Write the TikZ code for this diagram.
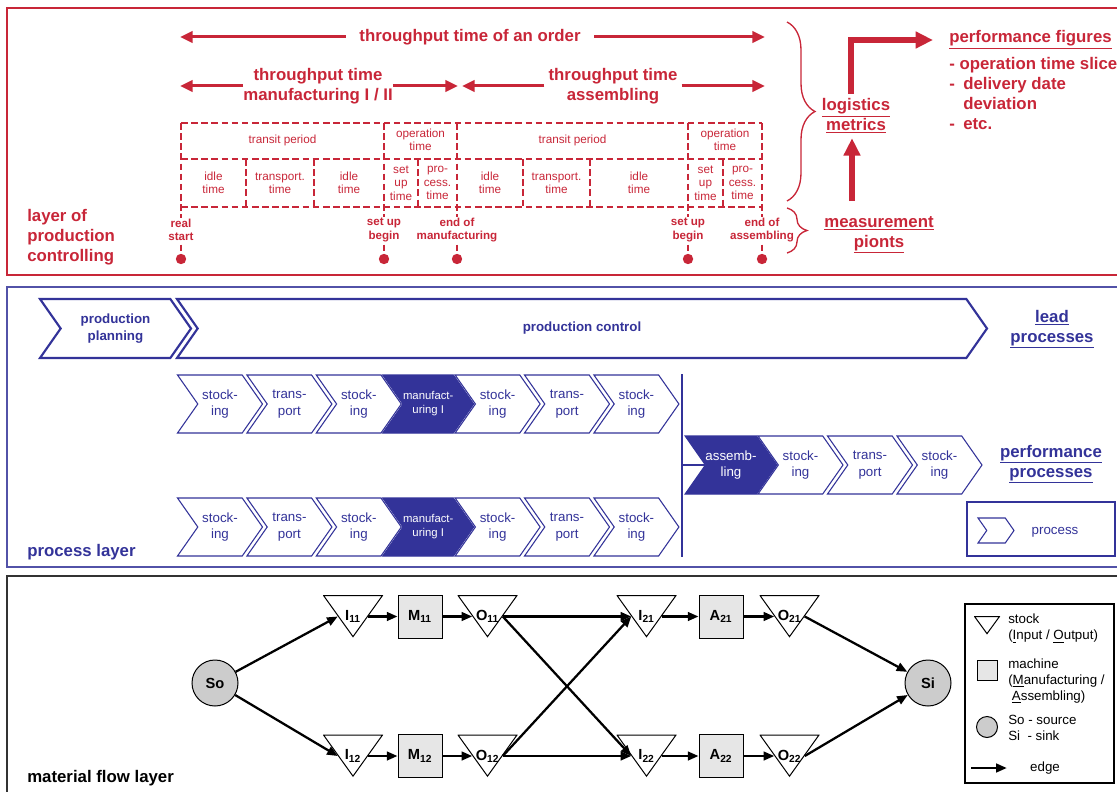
\documentclass[tikz,border=0pt]{standalone}
\usepackage{fontspec}
\setmainfont{Liberation Sans}
\definecolor{cRed}{HTML}{C82638}
\definecolor{cBlue}{HTML}{333399}
\definecolor{cFrame}{HTML}{333333}
\definecolor{cNodeGray}{HTML}{CCCCCC}
\definecolor{cBoxGray}{HTML}{E6E6E6}
\usepackage{tikz}
\usetikzlibrary{arrows.meta,calc,shapes.symbols,decorations.pathreplacing}

\newcommand{\fsHead}{\fontsize{12.6}{15}\selectfont\bfseries}
\newcommand{\fsGrid}{\fontsize{8.8}{10}\selectfont}
\newcommand{\fsMark}{\fontsize{8.7}{10}\selectfont\bfseries}
\newcommand{\fsProc}{\fontsize{10}{12.5}\selectfont}
\newcommand{\fsSmall}{\fontsize{8.5}{10.5}\selectfont}
\newcommand{\fsLead}{\fontsize{10}{12.5}\selectfont\bfseries}
\newcommand{\fsNode}{\fontsize{11}{13}\selectfont\bfseries}
\newcommand{\fsKey}{\fontsize{10}{12}\selectfont}

\begin{document}
\begin{tikzpicture}[x=0.75pt, y=-0.75pt,
  redarrow/.style={cRed, line width=2.25pt, -{Triangle[length=9.5pt,width=8.5pt]}},
  bigarrow/.style={cRed, line width=4.5pt, line join=miter, -{Triangle[length=13pt,width=12pt]}},
  griddash/.style={cRed, line width=1.5pt, dash pattern=on 5pt off 2.6pt},
  gridtxt/.style={cRed, font=\fsGrid, align=center, inner sep=0pt},
  marklbl/.style={cRed, font=\fsMark, align=center, fill=white, inner sep=1pt},
  mdot/.style={circle, fill=cRed, minimum size=7.8pt, inner sep=0pt},
  redbrace/.style={cRed, line width=1pt, decorate, decoration={brace, amplitude=#1}},
  headtxt/.style={cRed, font=\fsHead, align=center},
  bluehead/.style={cBlue, font=\fsHead, align=center},
  proc/.style={signal, signal from=west, signal to=east, signal pointer angle=110,
    draw=cBlue, line width=0.8pt, fill=white, text=cBlue, font=\fsProc, align=center,
    minimum width=63.75pt, minimum height=43.5pt, inner sep=0pt},
  procfill/.style={proc, fill=cBlue, text=white},
  leadproc/.style={proc, line width=1.6pt, font=\fsLead, minimum height=44.25pt},
  stock/.style={fill=white, minimum width=45pt, minimum height=32.25pt, inner sep=0pt, font=\fsNode,
    path picture={\draw[line width=0.75pt, fill=white]
      ([shift={(0.4pt,-0.4pt)}]path picture bounding box.north west) --
      ([shift={(-0.4pt,-0.4pt)}]path picture bounding box.north east) --
      ([yshift=1pt]path picture bounding box.south) -- cycle;}},
  machine/.style={draw, line width=0.75pt, fill=cBoxGray, minimum width=33pt, minimum height=32.25pt, inner sep=0pt, font=\fsNode},
  endnode/.style={circle, draw, line width=0.75pt, fill=cNodeGray, minimum size=34.5pt, inner sep=0pt, font=\fsNode},
  flow/.style={line width=1.7pt, -{Triangle[length=8pt,width=6.5pt]}},
  keytxt/.style={font=\fsKey, align=left, anchor=west, inner sep=0pt}]
\useasboundingbox (0,0) rectangle (1117,792);

% layer frames
\draw[cRed, line width=1.1pt] (1125,8) -- (7,8) -- (7,275) -- (1125,275);
\draw[cBlue!85, line width=1.1pt] (1125,287) -- (7,287) -- (7,567) -- (1125,567);
\draw[cFrame, line width=1.1pt] (1125,576) -- (7,576) -- (7,800);

% layer of production controlling
\node[headtxt, anchor=west, align=left, inner sep=0pt] (pclayer) at (27,237) {layer of\\production\\controlling};
\coordinate (tA) at (180,37);
\coordinate (tB) at (765,37);
\node[headtxt, inner xsep=10pt] (tto) at (470,37) {throughput time of an order};
\draw[redarrow] (tto) -- (tA);
\draw[redarrow] (tto) -- (tB);
\coordinate (tpmA) at (180,86);
\coordinate (tpmB) at (458,86);
\coordinate (tpaA) at (462,86);
\coordinate (tpaB) at (765,86);
\node[headtxt, inner xsep=0pt] (tpm) at (318,86) {throughput time\\manufacturing I / II};
\node[headtxt, inner xsep=3pt] (tpa) at (613,86) {throughput time\\assembling};
\draw[redarrow] (tpm) -- (tpmA);
\draw[redarrow] (tpm) -- (tpmB);
\draw[redarrow] (tpa) -- (tpaA);
\draw[redarrow] (tpa) -- (tpaB);

\foreach \y in {123,159,207} \draw[griddash] (181,\y) -- (762,\y);
\foreach \x in {246,314,418,523,590,723} \draw[griddash] (\x,159) -- (\x,207);
\foreach \m/\x in {rs/181,sb1/384,em/457,sb2/688,ea/762} {
  \node[mdot] (\m) at (\x,259) {};
  \draw[griddash] (\x,123) -- (\m);
}
\node[gridtxt] (tp1) at (282.5,140) {transit period};
\node[gridtxt] (op1) at (420.5,140) {operation\\time};
\node[gridtxt] (tp2) at (572.5,140) {transit period};
\node[gridtxt] (op2) at (725,140) {operation\\time};
\foreach \n/\x/\txt in {i1/213.5/{idle\\time}, tr1/280/{transport.\\time}, i2/349/{idle\\time},
    su1/401/{set\\up\\time}, pc1/437.5/{pro-\\cess.\\time}, i3/490/{idle\\time},
    tr2/556.5/{transport.\\time}, i4/639/{idle\\time}, su2/705.5/{set\\up\\time},
    pc2/742.5/{pro-\\cess.\\time}}
  \node[gridtxt] (\n) at (\x,183) {\txt};
\node[marklbl] (rslbl) at (181,230) {real\\start};
\node[marklbl] (sb1lbl) at (384,230) {set up\\begin};
\node[marklbl] (emlbl) at (457,230) {end of\\manufacturing};
\node[marklbl] (sb2lbl) at (688,230) {set up\\begin};
\node[marklbl] (ealbl) at (762,230) {end of\\assembling};

\draw[redbrace=21pt] (787,22) -- (787,201);
\draw[redbrace=15pt] (787,208) -- (787,253);
\node[headtxt] (logm) at (856,116) {\underline{logistics}\\\underline{metrics}};
\node[headtxt] (meas) at (879,235) {\underline{measurement}\\\underline{pionts}};
\node[headtxt, anchor=west, inner xsep=12pt, inner ysep=0pt] (perf) at (933,40) {\underline{performance figures}};
\node[headtxt, anchor=west, align=left, inner sep=0pt] (perflist) at (949,93)
  {- operation time slice\\-\enspace delivery date\\\phantom{-}\enspace deviation\\-\enspace etc.};
\coordinate (upfoot) at (852,201);
\draw[bigarrow] (upfoot) -- (upfoot |- logm.south);
\draw[bigarrow] ([xshift=-4pt]logm.north) |- (perf.west);

% process layer
\node[leadproc, minimum width=113.25pt] (plan) at (115.5,328.5) {production\\planning};
\node[leadproc, minimum width=607.5pt] (ctrl) at (582,328.5) {production control};
\foreach \k/\txt in {0/{stock-\\ing},1/{trans-\\port},2/{stock-\\ing},4/{stock-\\ing},5/{trans-\\port},6/{stock-\\ing}} {
  \node[proc] (up\k) at (220+69.4*\k,404) {\txt};
  \node[proc] (lo\k) at (220+69.4*\k,527) {\txt};
}
\node[procfill, font=\fsSmall] (up3) at (428.2,404) {manufact-\\uring I};
\node[procfill, font=\fsSmall] (lo3) at (428.2,527) {manufact-\\uring I};
\draw[cBlue, line width=2.2pt] (682,374) -- (682,557);
\node[procfill] (asm) at (731,465) {assemb-\\ling};
\foreach \k/\txt in {1/{stock-\\ing},2/{trans-\\port},3/{stock-\\ing}}
  \node[proc] (mid\k) at (731+69.5*\k,465) {\txt};
\coordinate (join) at (682,465);
\draw[cBlue, line width=0.8pt] (join) -- (asm.west);
\node[bluehead] (lead) at (1052,329) {\underline{lead}\\\underline{processes}};
\node[bluehead] (perfp) at (1051,464) {\underline{performance}\\\underline{processes}};
\node[bluehead, anchor=west, inner sep=0pt] (playr) at (27,552) {process layer};
\draw[cBlue, line width=1.5pt] (967,502) rectangle (1115,556);
\node[proc, minimum width=27pt, minimum height=18.75pt] (key) at (996,530.5) {};
\node[cBlue, font=\fsProc] (keylbl) at (1055,532) {process};

% material flow layer
\node[font=\fsHead, anchor=west, inner sep=0pt] (mflayer) at (27,778) {material flow layer};
\node[endnode] (So) at (215,683) {So};
\node[endnode] (Si) at (928,683) {Si};
\node[stock] (I11) at (353,616.5) {I\textsubscript{11}};
\node[machine] (M11) at (420,616.5) {M\textsubscript{11}};
\node[stock] (O11) at (487.5,616.5) {O\textsubscript{11}};
\node[stock] (I12) at (353,756) {I\textsubscript{12}};
\node[machine] (M12) at (420,756) {M\textsubscript{12}};
\node[stock] (O12) at (487.5,756) {O\textsubscript{12}};
\node[stock] (I21) at (646.5,616.5) {I\textsubscript{21}};
\node[machine] (A21) at (721,616.5) {A\textsubscript{21}};
\node[stock] (O21) at (789.5,616.5) {O\textsubscript{21}};
\node[stock] (I22) at (646.5,756) {I\textsubscript{22}};
\node[machine] (A22) at (721,756) {A\textsubscript{22}};
\node[stock] (O22) at (789.5,756) {O\textsubscript{22}};
\draw[flow] (So) -- ($(I11.west)+(15,0)$);
\draw[flow] (So) -- ($(I12.west)+(15,0)$);
\draw[flow] ($(I11.east)-(15,0)$) -- (M11);
\draw[flow] ($(I12.east)-(15,0)$) -- (M12);
\draw[flow] (M11) -- ($(O11.west)+(15,0)$);
\draw[flow] (M12) -- ($(O12.west)+(15,0)$);
\draw[flow] ($(O11.east)-(15,0)$) -- ($(I21.west)+(15,0)$);
\draw[flow] ($(O11.east)-(15,0)$) -- ($(I22.west)+(15,0)$);
\draw[flow] ($(O12.east)-(15,0)$) -- ($(I21.west)+(15,0)$);
\draw[flow] ($(O12.east)-(15,0)$) -- ($(I22.west)+(15,0)$);
\draw[flow] ($(I21.east)-(15,0)$) -- (A21);
\draw[flow] ($(I22.east)-(15,0)$) -- (A22);
\draw[flow] (A21) -- ($(O21.west)+(15,0)$);
\draw[flow] (A22) -- ($(O22.west)+(15,0)$);
\draw[flow] ($(O21.east)-(15,0)$) -- (Si);
\draw[flow] ($(O22.east)-(15,0)$) -- (Si);

\draw[line width=1.1pt] (965,604) rectangle (1114,783);
\node[stock, minimum width=19.5pt, minimum height=14.25pt] (keystock) at (987,625.5) {};
\node[keytxt] (keystocklbl) at (1008,628.5) {stock\\(\underline{I}nput / \underline{O}utput)};
\node[machine, minimum width=15pt, minimum height=15pt] (keymach) at (987,670) {};
\node[keytxt] (keymachlbl) at (1008,681) {machine\\(\underline{M}anufacturing /\\\ \underline{A}ssembling)};
\node[endnode, minimum size=15.75pt] (keyend) at (987,727) {};
\node[keytxt] (keyendlbl) at (1008,728) {So - source\\Si\ \ - sink};
\coordinate (keyedge) at (971,768);
\node[font=\fsKey] (keyedgelbl) at (1045,768) {edge};
\draw[flow, shorten >=14pt] (keyedge) -- (keyedgelbl);
\end{tikzpicture}
\end{document}
